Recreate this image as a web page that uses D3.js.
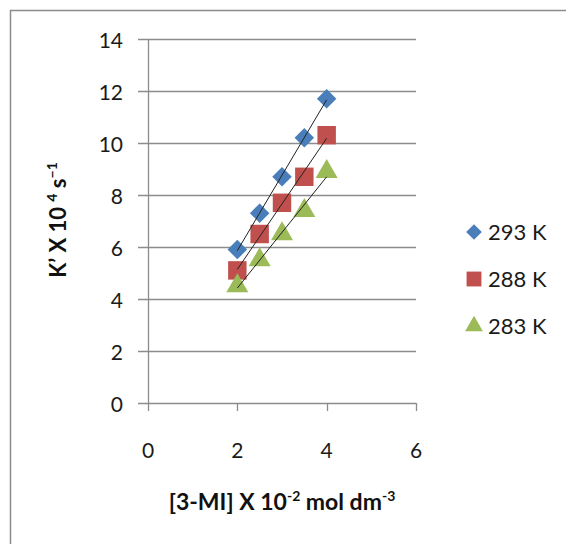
<!DOCTYPE html>
<html>
<head>
<meta charset="utf-8">
<script src="https://cdn.jsdelivr.net/npm/d3@7"></script>
<style>
  body { margin: 0; background: #fff; }
  svg { display: block; font-family: Lato, "Open Sans", sans-serif; }
</style>
</head>
<body>
<div id="chart"></div>
<script>
// data
const conc = [2, 2.5, 3, 3.5, 4];
const k293 = [5.9, 7.3, 8.7, 10.2, 11.7];
const k288 = [5.1, 6.5, 7.7, 8.7, 10.3];
const k283 = [4.5, 5.5, 6.5, 7.4, 8.9];
const seriesNames = ['293 K', '288 K', '283 K'];
const xTicks = [0, 2, 4, 6];
const yTicks = [0, 2, 4, 6, 8, 10, 12, 14];

const width = 566, height = 544;
const svg = d3.select('#chart').append('svg')
    .attr('width', width).attr('height', height);

// outer frame, runs off right/bottom edge
svg.append('rect')
    .attr('x', 10.5).attr('y', 10.5)
    .attr('width', 600).attr('height', 600)
    .attr('fill', 'none').attr('stroke', '#8c8c8c').attr('stroke-width', 1.5);

const x = d3.scaleLinear().domain([0, 6]).range([148, 416]);
const y = d3.scaleLinear().domain([0, 14]).range([403, 39]);

// gridlines
svg.append('g').selectAll('line')
    .data(yTicks)
    .join('line')
    .attr('x1', 138).attr('x2', x(6))
    .attr('y1', d => Math.round(y(d)) + 0.5).attr('y2', d => Math.round(y(d)) + 0.5)
    .attr('stroke', '#8c8c8c').attr('stroke-width', 1.3);

// axes lines
svg.append('line')
    .attr('x1', x(0) + 0.5).attr('x2', x(0) + 0.5)
    .attr('y1', y(14)).attr('y2', y(0) + 8)
    .attr('stroke', '#8c8c8c').attr('stroke-width', 1.3);
svg.append('g').selectAll('line')
    .data(xTicks.slice(1))
    .join('line')
    .attr('x1', d => Math.round(x(d)) + 0.5).attr('x2', d => Math.round(x(d)) + 0.5)
    .attr('y1', y(0)).attr('y2', y(0) + 8)
    .attr('stroke', '#8c8c8c').attr('stroke-width', 1.3);

// tick labels
svg.append('g').selectAll('text')
    .data(yTicks)
    .join('text')
    .attr('x', 123).attr('y', d => y(d) + 1)
    .attr('dy', '0.36em')
    .attr('text-anchor', 'end')
    .attr('font-size', 21).attr('fill', '#1a1a1a')
    .text(d => d);
svg.append('g').selectAll('text')
    .data(xTicks)
    .join('text')
    .attr('x', d => x(d)).attr('y', 450)
    .attr('dy', '0.36em')
    .attr('text-anchor', 'middle')
    .attr('font-size', 21).attr('fill', '#1a1a1a')
    .text(d => d);

// axis titles
const xt = svg.append('text')
    .attr('x', 282).attr('y', 510)
    .attr('text-anchor', 'middle')
    .attr('font-size', 23).attr('font-weight', 'bold').attr('fill', '#111');
xt.append('tspan').text('[3-MI] X 10');
xt.append('tspan').attr('font-size', 14).attr('dy', -9).text('-2');
xt.append('tspan').attr('dy', 9).text(' mol dm');
xt.append('tspan').attr('font-size', 14).attr('dy', -9).text('-3');

const yt = svg.append('text')
    .attr('transform', 'translate(66,220) rotate(-90)')
    .attr('text-anchor', 'middle')
    .attr('font-size', 22).attr('font-weight', 'bold').attr('fill', '#111');
yt.append('tspan').text('K\u2019 X 10 ');
yt.append('tspan').attr('font-size', 14).attr('dy', -9).text('4');
yt.append('tspan').attr('dy', 9).text(' s');
yt.append('tspan').attr('font-size', 14).attr('dy', -9).text('\u22121');

const series = [
    { name: seriesNames[0], values: k293, color: '#4a7ebb', symbol: d3.symbolSquare, rot: 45, size: 190 },
    { name: seriesNames[1], values: k288, color: '#c0504d', symbol: d3.symbolSquare, rot: 0, size: 340 },
    { name: seriesNames[2], values: k283, color: '#9bbb59', symbol: d3.symbolTriangle, rot: 0, size: 210 }
];

// markers
series.forEach(s => {
    svg.append('g').selectAll('path')
        .data(conc.map((c, i) => [c, s.values[i]]))
        .join('path')
        .attr('transform', d => `translate(${x(d[0])},${y(d[1])}) rotate(${s.rot})`)
        .attr('d', d3.symbol().type(s.symbol).size(s.size))
        .attr('fill', s.color);
});

// linear trendlines (least squares)
series.forEach(s => {
    const mx = d3.mean(conc), my = d3.mean(s.values);
    let sxy = 0, sxx = 0;
    conc.forEach((c, i) => { sxy += (c - mx) * (s.values[i] - my); sxx += (c - mx) * (c - mx); });
    const b = sxy / sxx, a = my - b * mx;
    const x0 = d3.min(conc), x1 = d3.max(conc);
    svg.append('line')
        .attr('x1', x(x0)).attr('y1', y(a + b * x0))
        .attr('x2', x(x1)).attr('y2', y(a + b * x1))
        .attr('stroke', '#222').attr('stroke-width', 1);
});

// legend
const legend = svg.append('g');
series.forEach((s, i) => {
    const ly = 232 + i * 47;
    legend.append('path')
        .attr('transform', `translate(474,${ly}) rotate(${s.rot})`)
        .attr('d', d3.symbol().type(s.symbol).size(s.size * 0.65))
        .attr('fill', s.color);
    legend.append('text')
        .attr('x', 488).attr('y', ly)
        .attr('dy', '0.36em')
        .attr('font-size', 22).attr('fill', '#1a1a1a')
        .text(s.name);
});
</script>
</body>
</html>
